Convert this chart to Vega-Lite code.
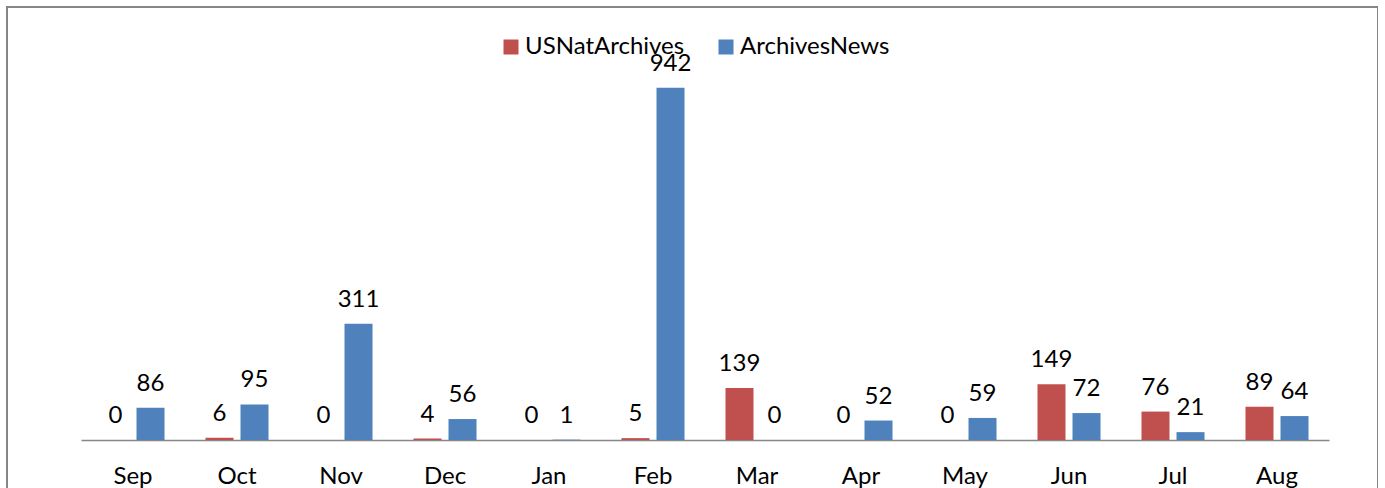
{
  "$schema": "https://vega.github.io/schema/vega-lite/v6.json",
  "autosize": {"type": "none"},
  "padding": {"left": 7, "top": 7, "right": 0, "bottom": 0},
  "width": 1371,
  "height": 500,
  "background": "white",
  "config": {
    "view": {"stroke": "#868686", "strokeWidth": 2},
    "font": "Lato"
  },
  "data": {
    "values": [
      {"month": "Sep", "series": "USNatArchives", "value": 0},
      {"month": "Sep", "series": "ArchivesNews", "value": 86},
      {"month": "Oct", "series": "USNatArchives", "value": 6},
      {"month": "Oct", "series": "ArchivesNews", "value": 95},
      {"month": "Nov", "series": "USNatArchives", "value": 0},
      {"month": "Nov", "series": "ArchivesNews", "value": 311},
      {"month": "Dec", "series": "USNatArchives", "value": 4},
      {"month": "Dec", "series": "ArchivesNews", "value": 56},
      {"month": "Jan", "series": "USNatArchives", "value": 0},
      {"month": "Jan", "series": "ArchivesNews", "value": 1},
      {"month": "Feb", "series": "USNatArchives", "value": 5},
      {"month": "Feb", "series": "ArchivesNews", "value": 942},
      {"month": "Mar", "series": "USNatArchives", "value": 139},
      {"month": "Mar", "series": "ArchivesNews", "value": 0},
      {"month": "Apr", "series": "USNatArchives", "value": 0},
      {"month": "Apr", "series": "ArchivesNews", "value": 52},
      {"month": "May", "series": "USNatArchives", "value": 0},
      {"month": "May", "series": "ArchivesNews", "value": 59},
      {"month": "Jun", "series": "USNatArchives", "value": 149},
      {"month": "Jun", "series": "ArchivesNews", "value": 72},
      {"month": "Jul", "series": "USNatArchives", "value": 76},
      {"month": "Jul", "series": "ArchivesNews", "value": 21},
      {"month": "Aug", "series": "USNatArchives", "value": 89},
      {"month": "Aug", "series": "ArchivesNews", "value": 64}
    ]
  },
  "encoding": {
    "x": {
      "field": "month",
      "type": "nominal",
      "sort": ["Sep","Oct","Nov","Dec","Jan","Feb","Mar","Apr","May","Jun","Jul","Aug"],
      "scale": {"range": [74, 1322], "paddingInner": 0.394, "paddingOuter": 0.197},
      "axis": {
        "title": null,
        "labelAngle": 0,
        "ticks": false,
        "tickSize": 0,
        "offset": -67,
        "domainColor": "#868686",
        "domainWidth": 1.5,
        "labelFont": "Lato",
        "labelFontSize": 24,
        "labelColor": "#000000",
        "labelPadding": 24
      }
    },
    "xOffset": {
      "field": "series",
      "type": "nominal",
      "sort": ["USNatArchives", "ArchivesNews"],
      "scale": {"paddingInner": 0.2, "paddingOuter": 0}
    },
    "y": {
      "field": "value",
      "type": "quantitative",
      "scale": {"domain": [0, 1000], "range": [433, 59], "nice": false},
      "axis": null
    }
  },
  "layer": [
    {
      "mark": {"type": "bar"},
      "encoding": {
        "color": {
          "field": "series",
          "type": "nominal",
          "sort": ["USNatArchives", "ArchivesNews"],
          "scale": {"domain": ["USNatArchives", "ArchivesNews"], "range": ["#C0504D", "#4F81BD"]},
          "legend": {
            "title": null,
            "orient": "none",
            "direction": "horizontal",
            "legendX": 492,
            "legendY": 28,
            "padding": 0,
            "symbolType": "square",
            "symbolSize": 225,
            "symbolStrokeWidth": 0,
            "symbolOpacity": 1,
            "labelFont": "Lato",
            "labelFontSize": 24,
            "labelColor": "#000000",
            "labelOffset": 2,
            "columnPadding": 29,
            "labelLimit": 400
          }
        }
      }
    },
    {
      "mark": {"type": "text", "baseline": "alphabetic", "dy": -17, "font": "Lato", "fontSize": 24, "color": "#000000"},
      "encoding": {
        "text": {"field": "value", "type": "quantitative"}
      }
    }
  ]
}
